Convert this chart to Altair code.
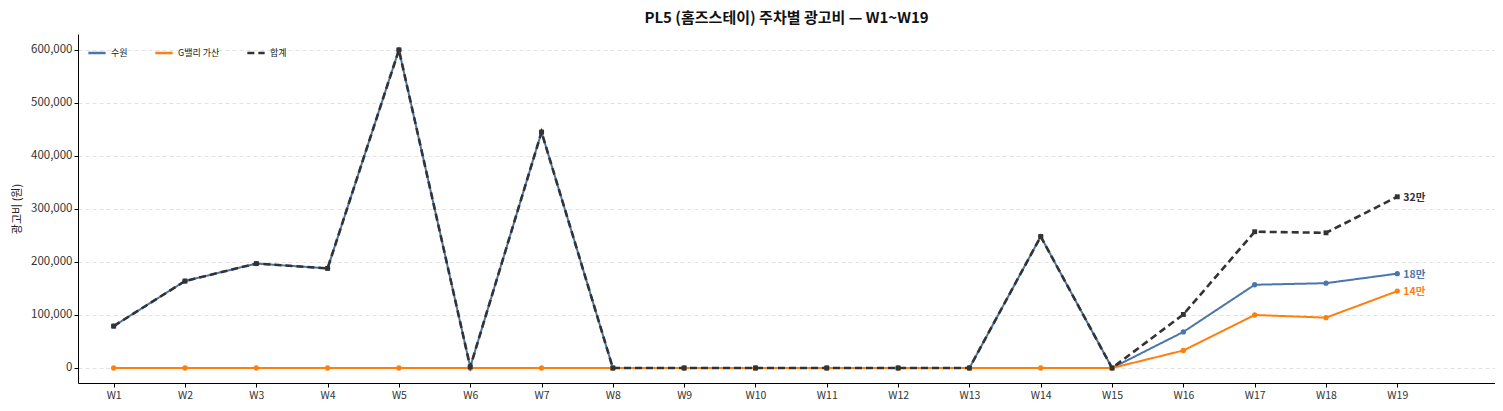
import pandas as pd
import altair as alt

font = "Noto Sans CJK KR"

weeks = list(range(1, 20))
suwon = [79000, 164000, 197000, 188000, 600000, 2000, 445000, 0, 0, 0,
         0, 0, 0, 248000, 0, 68000, 157000, 160000, 178000]
gvalley = [0, 0, 0, 0, 0, 0, 0, 0, 0, 0,
           0, 0, 0, 0, 0, 33000, 100000, 95000, 145000]
total = [a + b for a, b in zip(suwon, gvalley)]
y_ticks = [0, 100000, 200000, 300000, 400000, 500000, 600000]

series = ["수원", "G밸리 가산", "합계"]
colors = ["#4a77a9", "#ff7f0e", "#333333"]
dashes = [[1, 0], [1, 0], [7, 4]]
shapes = ["circle", "circle", "square"]

rows = []
for name, vals in zip(series, [suwon, gvalley, total]):
	for w, v in zip(weeks, vals):
		rows.append({"week": w, "series": name, "value": v})
df = pd.DataFrame(rows)

last = df[df["week"] == 19].copy()
last["label"] = (last["value"] / 10000).round().astype(int).astype(str) + "만"

x = alt.X("week:Q", title = None, scale = alt.Scale(domain = [0.5, 20.37], nice = False, zero = False),
	axis = alt.Axis(values = weeks, labelExpr = "'W' + datum.value", grid = False, tickSize = 4,
		labelFontSize = 10.5, labelColor = "#333", domainColor = "#000", tickColor = "#000", labelPadding = 3))
y = alt.Y("value:Q", title = "광고비 (원)", scale = alt.Scale(domain = [-28300, 630000], nice = False, zero = False),
	axis = alt.Axis(values = y_ticks, labelExpr = "format(datum.value, ',')",
		gridDash = [4, 3], gridColor = "#e3e3e3", tickSize = 4, labelFontSize = 11.5, labelColor = "#333",
		domainColor = "#000", tickColor = "#000", titleFontSize = 11, titleFontWeight = "normal",
		titleColor = "#222", titlePadding = 8))
color = alt.Color("series:N", title = None, scale = alt.Scale(domain = series, range = colors),
	legend = alt.Legend(orient = "top-left", direction = "horizontal", symbolType = "stroke",
		symbolStrokeWidth = 2.5, symbolSize = 300, labelFontSize = 9, labelColor = "#222",
		columnPadding = 22, offset = 6, padding = 3))
dash = alt.StrokeDash("series:N", title = None, scale = alt.Scale(domain = series, range = dashes))

base = alt.Chart(df)
layers = []
for name, shape in zip(series, shapes):
	sub = base.transform_filter(alt.datum.series == name)
	width = 2.6 if name == "합계" else 2
	layers.append(sub.mark_line(strokeWidth = width).encode(x = x, y = y, color = color, strokeDash = dash))
	layers.append(sub.mark_point(filled = True, shape = shape, size = 28 if shape == "circle" else 24, opacity = 1).encode(
		x = x, y = y, color = alt.Color("series:N", scale = alt.Scale(domain = series, range = colors), legend = None)))

labels = alt.Chart(last).mark_text(align = "left", dx = 6, dy = 1, fontWeight = "bold", fontSize = 10.5).encode(
	x = x, y = y, text = "label:N",
	color = alt.Color("series:N", scale = alt.Scale(domain = series, range = colors), legend = None))

chart = alt.layer(*layers, labels).properties(
	width = 1417, height = 349,
	title = alt.Title("PL5 (홈즈스테이) 주차별 광고비 — W1~W19", fontSize = 15, fontWeight = "bold",
		color = "#111", anchor = "middle", offset = 8),
	autosize = alt.AutoSizeParams(type = "none"),
	padding = {"left": 70, "top": 26, "right": 0, "bottom": 20},
).configure(font = font).configure_view(stroke = None)

chart.save("out.html", embed_options = {"renderer": "svg", "actions": False})
